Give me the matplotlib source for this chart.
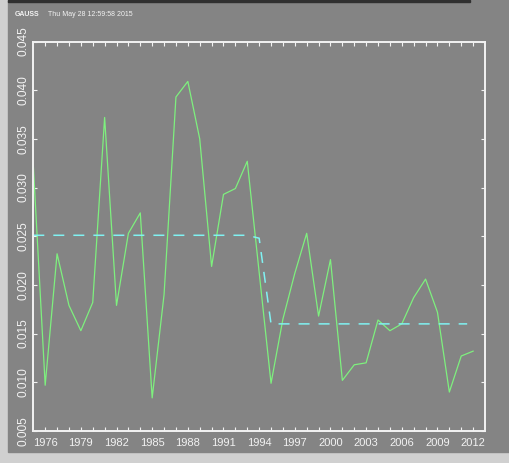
import matplotlib
matplotlib.use('Agg')
import matplotlib.pyplot as plt
from matplotlib.patches import Rectangle

# yearly series (green) and regime level (cyan dashed)
years = list(range(1975, 2013))
values = [0.0323, 0.0097, 0.0232, 0.0179, 0.0153, 0.0182, 0.0372, 0.0179,
          0.0253, 0.0274, 0.0084, 0.0190, 0.0393, 0.0409, 0.0350, 0.0219,
          0.0293, 0.0299, 0.0327, 0.0213, 0.0099, 0.0165, 0.0212, 0.0253,
          0.0168, 0.0226, 0.0102, 0.0118, 0.0120, 0.0164, 0.0153, 0.0160,
          0.0187, 0.0206, 0.0172, 0.0090, 0.0127, 0.0132]
level_years = [1975, 1993, 1994, 1995, 2011.5]
level_values = [0.0251, 0.0251, 0.0248, 0.0160, 0.0160]
label_years = list(range(1976, 2013, 3))
y_ticks = [0.005, 0.010, 0.015, 0.020, 0.025, 0.030, 0.035, 0.040, 0.045]

bg = '#848484'
fg = '#f2f2f2'
plt.rcParams['font.family'] = ['Liberation Sans', 'DejaVu Sans']

fig = plt.figure(figsize=(5.10, 4.63), dpi=100, facecolor='#d0d0d0')
# gray window area and dark strip at the top
fig.patches.append(Rectangle((8 / 510, 11 / 463), 502 / 510, 452 / 463,
                             transform=fig.transFigure, color=bg, zorder=-10))
fig.patches.append(Rectangle((8 / 510, 461 / 463), 462 / 510, 2 / 463,
                             transform=fig.transFigure, color='#303030', zorder=-9))

ax = fig.add_axes([33.3 / 510, 1 - 431 / 463, 451.7 / 510, 389.5 / 463])
ax.set_facecolor(bg)

ax.plot(years, values, color='#7ef07e', lw=0.9)
ax.plot(level_years, level_values, color='#80f2f2', lw=1.1, dashes=(7.2, 5.9))

ax.set_xlim(1975, 2013)
ax.set_ylim(0.005, 0.045)
ax.set_xticks(label_years)
ax.set_xticks(years[1:], minor=True)
ax.set_yticks(y_ticks)
ax.set_yticklabels(['%.3f' % v for v in y_ticks], rotation=90, va='center')

for s in ax.spines.values():
    s.set_color(fg)
    s.set_linewidth(1.4)
ax.tick_params(which='both', direction='in', length=3, width=0.8, color=fg,
               top=True, right=True)
ax.tick_params(axis='x', labelsize=8, labelcolor=fg, pad=5)
ax.tick_params(axis='y', labelsize=8.6, labelcolor=fg, pad=3)

fig.text(15 / 510, 1 - 15 / 463, 'GAUSS', color=fg, fontsize=5,
         fontweight='bold', va='center')
fig.text(48 / 510, 1 - 15 / 463, 'Thu May 28 12:59:58 2015', color=fg,
         fontsize=5, va='center')

plt.savefig('out.png', dpi=100, facecolor=fig.get_facecolor())
